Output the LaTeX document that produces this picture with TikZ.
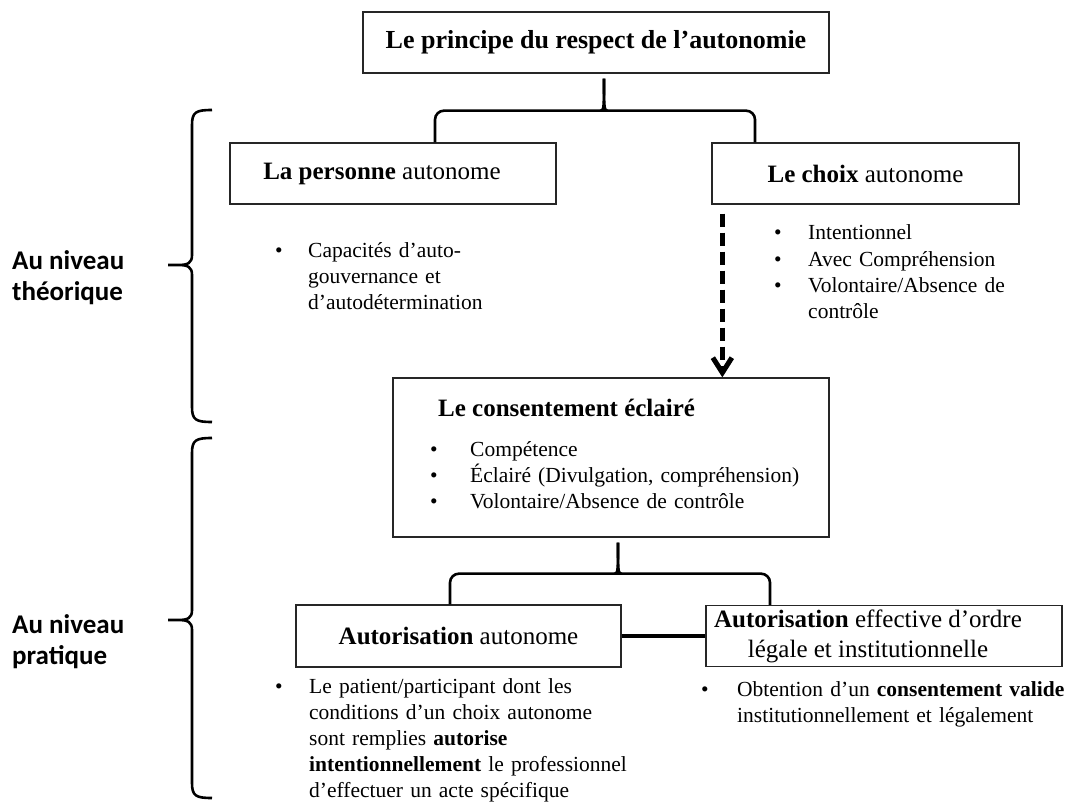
\documentclass[tikz,border=0pt]{standalone}
\usepackage{fontspec}
\setmainfont{Liberation Serif}
\newfontfamily\niveaufont{Carlito}
\usetikzlibrary{arrows.meta}
\newlength{\pucelarg}
\newcommand{\puce}[1]{\leftskip=\pucelarg\noindent\llap{\makebox[\pucelarg][l]{\textbullet}}#1\par}
\begin{document}
\begin{tikzpicture}[x=1pt,y=-1pt,
    boite/.style={draw=black!85,line width=1.3pt,inner sep=0pt,align=center,font=\fontsize{25}{30}\selectfont},
    titre/.style={anchor=base west,inner sep=0pt,font=\fontsize{25}{30}\selectfont},
    liste/.style 2 args={anchor=base west,inner sep=0pt,text width=#1,align=left,
        font=\fontsize{21.5}{26}\selectfont,execute at begin node={\setlength{\pucelarg}{#2}}},
    accolade/.style={line width=2.6pt,rounded corners=9pt},
    niveau/.style={anchor=west,inner sep=0pt,align=left,font=\niveaufont\bfseries\fontsize{27}{31}\selectfont},
    fleche/.style={line width=5pt,dash pattern=on 13pt off 6pt,-{Straight Barb[length=15pt,width=19pt]}},
    lien/.style={line width=4pt}]
    \useasboundingbox (0,0) rectangle (1081,805);
    % Les boites
    \node[boite,minimum width=466pt,minimum height=61pt,font=\fontsize{26}{30}\selectfont] (principe) at (596,42.5) {\textbf{Le principe du respect de l’autonomie}};
    \node[boite,minimum width=326pt,minimum height=61pt] (personne) at (393,173.5) {\textbf{La personne} autonome\hspace{22pt}};
    \node[boite,minimum width=307pt,minimum height=61pt] (choix) at (865.5,173.5) {\textbf{Le choix} autonome};
    \node[boite,minimum width=436pt,minimum height=159pt] (consent) at (611,457.5) {};
    \node[boite,minimum width=325pt,minimum height=62pt] (autoAut) at (458.5,636) {\textbf{Autorisation} autonome};
    \node[boite,minimum width=356pt,minimum height=61pt] (autoEff) at (884,636) {\textbf{Autorisation} effective d’ordre\hspace*{32pt}\\légale et institutionnelle\hspace*{32pt}};
    \node[titre] (titreConsent) at (438,416) {\textbf{Le consentement éclairé}};
    % Les listes
    \node[liste={260pt}{33pt}] (listePersonne) at (275,257) {\puce{Capacités d’auto-\newline gouvernance et\newline d’autodétermination}};
    \node[liste={280pt}{34pt}] (listeChoix) at (774,240) {\puce{Intentionnel}\puce{Avec Compréhension}\puce{Volontaire/Absence de\newline contrôle}};
    \node[liste={390pt}{40pt}] (listeConsent) at (430,456) {\puce{Compétence}\puce{Éclairé (Divulgation, compréhension)}\puce{Volontaire/Absence de contrôle}};
    \node[liste={360pt}{34pt}] (listeAut) at (275,693) {\puce{Le patient/participant dont les\newline conditions d’un choix autonome\newline sont remplies \textbf{autorise}\newline \textbf{intentionnellement} le professionnel\newline d’effectuer un acte spécifique}};
    \node[liste={380pt}{36pt}] (listeEff) at (701,696) {\puce{Obtention d’un \textbf{consentement valide}\newline institutionnellement et légalement}};
    % Les niveaux
    \node[niveau] (theorique) at (12,278) {Au niveau\\théorique};
    \node[niveau] (pratique) at (12,642) {Au niveau\\pratique};
    % Accolades entre les boites
    \draw[accolade] ([xshift=42pt]personne.north) |- ([xshift=2pt,yshift=-37pt]principe.south)
        .. controls +(6pt,0) and +(0,-26pt) .. ([xshift=8pt,yshift=-5pt]principe.south);
    \draw[accolade] ([xshift=-110.5pt]choix.north) |- ([xshift=14pt,yshift=-37pt]principe.south)
        .. controls +(-6pt,0) and +(0,-26pt) .. ([xshift=8pt,yshift=-5pt]principe.south);
    \draw[accolade] ([xshift=-8.5pt]autoAut.north) |- ([xshift=1pt,yshift=-36pt]consent.south)
        .. controls +(6pt,0) and +(0,-26pt) .. ([xshift=7pt,yshift=-5pt]consent.south);
    \draw[accolade] ([xshift=-114pt]autoEff.north) |- ([xshift=13pt,yshift=-36pt]consent.south)
        .. controls +(-6pt,0) and +(0,-26pt) .. ([xshift=7pt,yshift=-5pt]consent.south);
    % Fleche et lien
    \coordinate (depart) at ([xshift=11pt,yshift=-9pt]choix.south west);
    \draw[fleche] (depart) -- (depart |- consent.north);
    \draw[lien] (autoAut.east) -- (autoEff.west);
    % Grandes accolades a gauche
    \draw[line width=2.6pt] (212,110) .. controls (196,110) and (192,112) .. (192,125) -- (192,255)
        .. controls (192,263) and (188,265) .. (178,265) -- (168,265) -- (178,265)
        .. controls (188,265) and (192,267) .. (192,275)
        -- (192,407) .. controls (192,420) and (196,422) .. (212,422);
    \draw[line width=2.6pt] (212,438) .. controls (196,438) and (192,440) .. (192,453) -- (192,610)
        .. controls (192,618) and (188,620) .. (178,620) -- (168,620) -- (178,620)
        .. controls (188,620) and (192,622) .. (192,630)
        -- (192,783) .. controls (192,796) and (196,798) .. (212,798);
\end{tikzpicture}
\end{document}
